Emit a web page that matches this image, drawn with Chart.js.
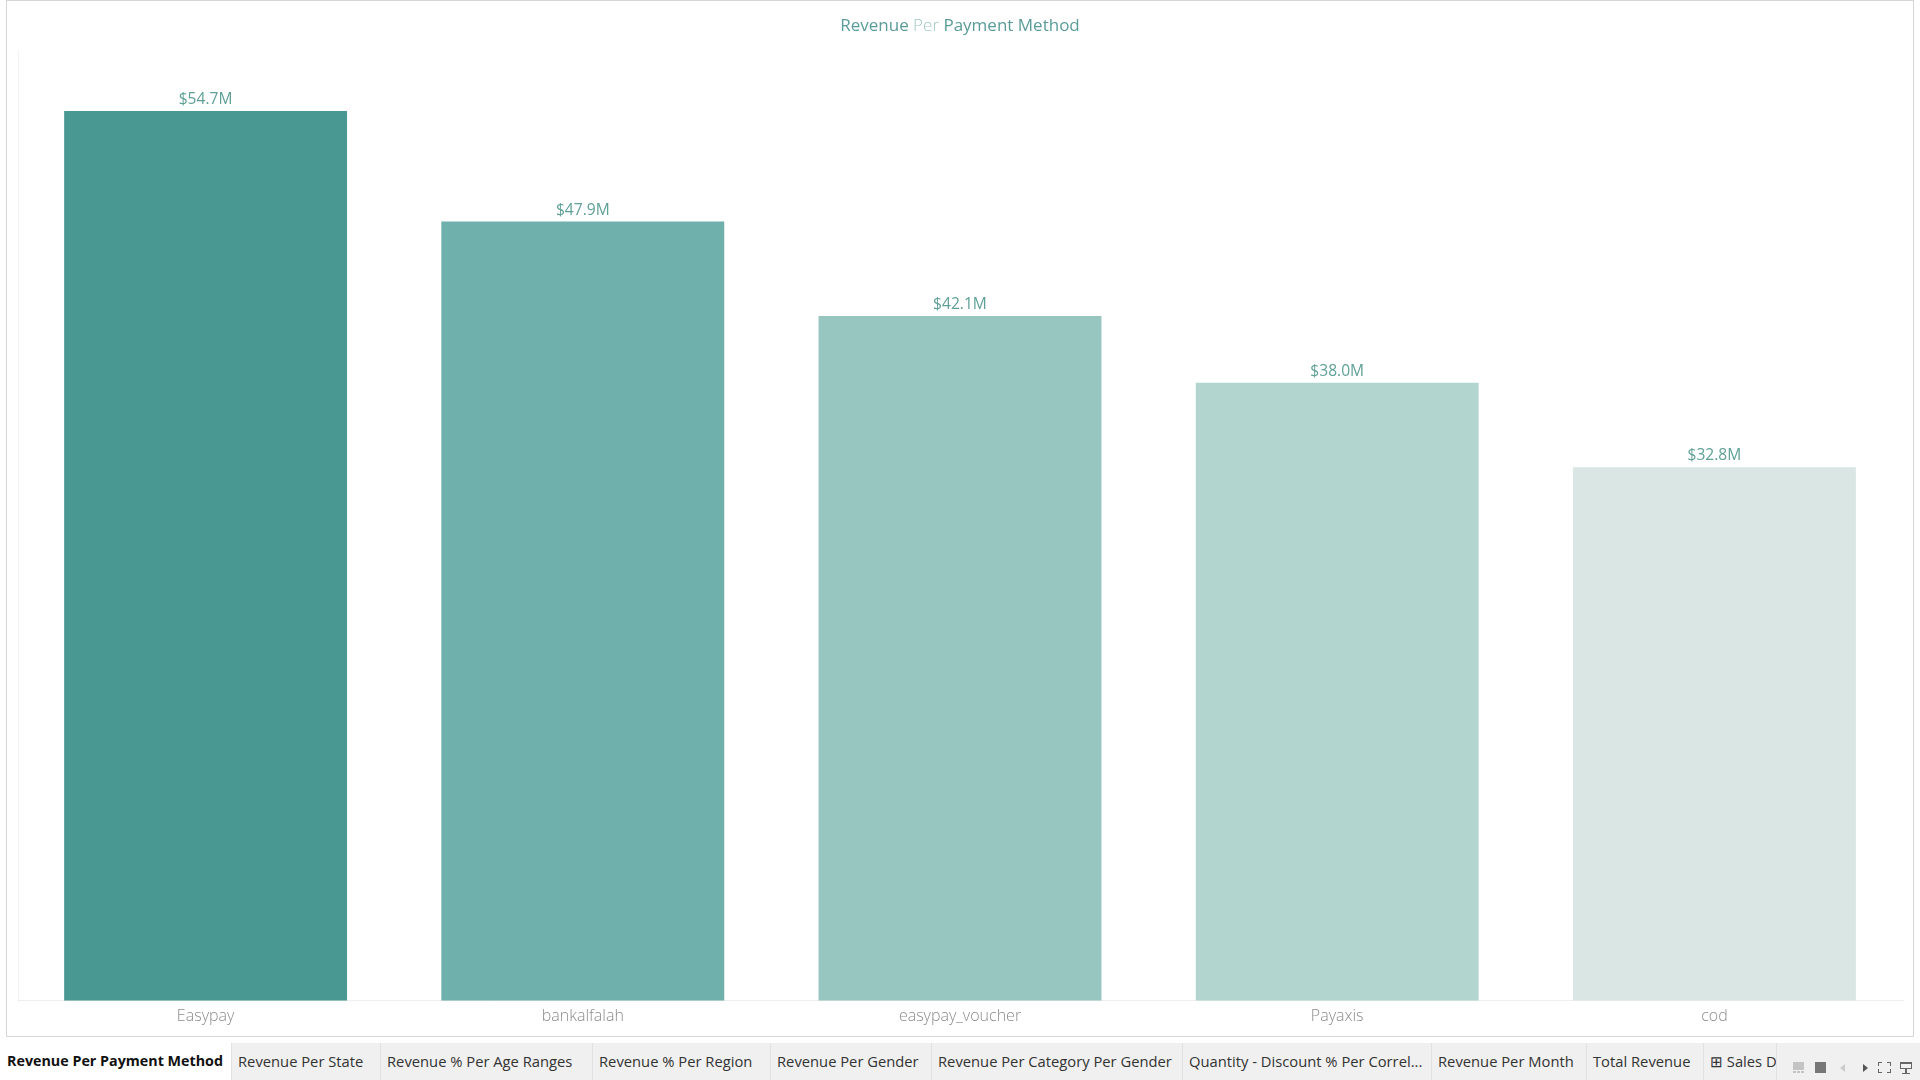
<!DOCTYPE html>
<html>
<head>
<meta charset="utf-8">
<title>Revenue Per Payment Method</title>
<script src="https://cdn.jsdelivr.net/npm/chart.js@4"></script>
<style>
html,body{margin:0;padding:0;width:1920px;height:1080px;overflow:hidden;background:#fff;font-family:"Open Sans",sans-serif}
#frame{position:absolute;left:6px;top:0;width:1906px;height:1035px;border:1px solid #d6d6d6;box-sizing:content-box}
#c{position:absolute;left:0;top:0}
#title{position:absolute;left:0;width:1920px;top:13px;text-align:center;font-size:17px;line-height:24px;color:#5b9c98}
#title .per{color:#a3c9c5;font-weight:300}
#strip{position:absolute;left:0;top:1043px;width:1920px;height:37px;background:#f0f0f0}
.tab{position:absolute;top:0;height:37px;line-height:37px;font-size:14.75px;color:#333;white-space:nowrap;overflow:hidden;box-sizing:border-box;padding-left:6px;border-left:1px solid #e2e2e2;font-family:"Open Sans",sans-serif}
.tab.active{background:#fff;color:#111;font-weight:700;border-left:none;font-size:14.3px;line-height:35px;padding-left:7px}
.ic{position:absolute}
</style>
</head>
<body>
<div id="frame"></div>
<canvas id="c" width="1920" height="1080"></canvas>
<div id="title">Revenue <span class="per">Per</span> Payment Method</div>
<div id="strip"></div>
<script>
const categories = ["Easypay", "bankalfalah", "easypay_voucher", "Payaxis", "cod"];
const revenueMillions = [54.7, 47.9, 42.1, 38.0, 32.8];
const barColors = ["#499892", "#6fb0ac", "#97c6c1", "#b2d5d0", "#d9e6e4"];
const tabNames = ["Revenue Per Payment Method", "Revenue Per State", "Revenue % Per Age Ranges", "Revenue % Per Region", "Revenue Per Gender", "Revenue Per Category Per Gender", "Quantity - Discount % Per Correl...", "Revenue Per Month", "Total Revenue", "\u229E Sales Dashboard"];
const tabEdges = [0, 231, 380, 592, 770, 931, 1182, 1431, 1586, 1703, 1776];

const strip = document.getElementById("strip");
tabNames.forEach((name, i) => {
  const t = document.createElement("div");
  t.className = "tab" + (i === 0 ? " active" : "");
  t.textContent = name;
  t.style.left = tabEdges[i] + "px";
  t.style.width = (tabEdges[i + 1] - tabEdges[i]) + "px";
  strip.appendChild(t);
});
const edge = document.createElement("div");
edge.className = "ic";
edge.style.cssText = "left:1776px;top:0;width:1px;height:37px;background:#e2e2e2";
strip.appendChild(edge);
function icon(css, html) {
  const d = document.createElement("div");
  d.className = "ic";
  d.style.cssText = css;
  if (html) d.innerHTML = html;
  strip.appendChild(d);
}
icon("left:1793px;top:19px;width:11px;height:8px;background:#c4c4c4");
icon("left:1793px;top:28px;width:11px;height:2px;background:repeating-linear-gradient(90deg,#c4c4c4 0 3px,transparent 3px 4px)");
icon("left:1815px;top:19px;width:11px;height:11px;background:#777");
icon("left:1840px;top:21px;width:0;height:0;border-top:4px solid transparent;border-bottom:4px solid transparent;border-right:5px solid #ccc");
icon("left:1863px;top:21px;width:0;height:0;border-top:4px solid transparent;border-bottom:4px solid transparent;border-left:5px solid #555");
const corner = "position:absolute;width:3px;height:3px;border-color:#666;border-style:solid;border-width:0;";
icon("left:1878px;top:19px;width:13px;height:11px",
  `<i style="${corner}left:0;top:0;border-left-width:1px;border-top-width:1px"></i>
   <i style="${corner}right:0;top:0;border-right-width:1px;border-top-width:1px"></i>
   <i style="${corner}left:0;bottom:0;border-left-width:1px;border-bottom-width:1px"></i>
   <i style="${corner}right:0;bottom:0;border-right-width:1px;border-bottom-width:1px"></i>`);
icon("left:1900px;top:19px;width:12px;height:7px;border:1px solid #666;border-top-width:2px;box-sizing:border-box");
icon("left:1905px;top:26px;width:2px;height:4px;background:#666");
icon("left:1902px;top:30px;width:8px;height:1px;background:#666");

const valueLabels = {
  id: "valueLabels",
  afterDatasetsDraw(chart) {
    const ctx = chart.ctx;
    const meta = chart.getDatasetMeta(0);
    ctx.save();
    ctx.font = '400 15.6px "Open Sans", sans-serif';
    ctx.fillStyle = "#5fa097";
    ctx.textAlign = "center";
    ctx.textBaseline = "alphabetic";
    meta.data.forEach((bar, i) => {
      ctx.fillText("$" + revenueMillions[i].toFixed(1) + "M", bar.x, bar.y - 7);
    });
    ctx.restore();
  }
};
const plotEdge = {
  id: "plotEdge",
  beforeDatasetsDraw(chart) {
    const { ctx, chartArea: a } = chart;
    ctx.save();
    ctx.strokeStyle = "#f3f3f3";
    ctx.lineWidth = 1;
    ctx.beginPath();
    ctx.moveTo(a.left + 1.5, a.top);
    ctx.lineTo(a.left + 1.5, a.bottom + 1);
    ctx.stroke();
    ctx.restore();
  }
};

new Chart(document.getElementById("c"), {
  type: "bar",
  data: {
    labels: categories,
    datasets: [{
      label: "Revenue",
      data: revenueMillions,
      backgroundColor: barColors,
      borderWidth: 0,
      categoryPercentage: 1,
      barPercentage: 0.75
    }]
  },
  options: {
    responsive: false,
    animation: false,
    devicePixelRatio: 1,
    layout: { padding: { left: 17, right: 17, top: 50, bottom: 48 } },
    plugins: { legend: { display: false }, tooltip: { enabled: false }, title: { display: false } },
    scales: {
      x: {
        grid: { display: false, drawTicks: false },
        border: { color: "#efefef", width: 1 },
        ticks: { color: "#8c8c8c", padding: 6, autoSkip: false, maxRotation: 0, font: { family: '"Open Sans", sans-serif', size: 16, weight: 300 } }
      },
      y: { display: false, min: 0, max: 58.45 }
    }
  },
  plugins: [plotEdge, valueLabels]
});
</script>
</body>
</html>
